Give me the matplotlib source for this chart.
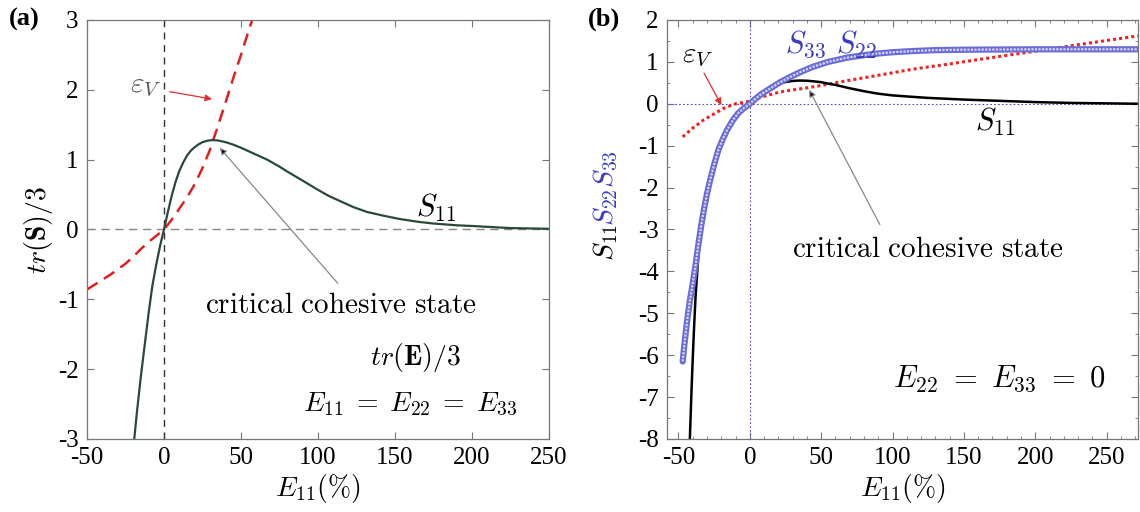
import numpy as np
import matplotlib
matplotlib.use('Agg')
import matplotlib.pyplot as plt
from matplotlib.ticker import MultipleLocator

plt.rcParams['font.family'] = ['Liberation Serif', 'DejaVu Serif']
plt.rcParams['mathtext.fontset'] = 'cm'
plt.rcParams['axes.unicode_minus'] = False

# ---- panel (a): isotropic stretching E11 = E22 = E33 ----
a_s11_e = [-19.3, -17.5, -15, -12.5, -10, -7.5, -5, -2.5, 0, 2.5, 5, 7.5, 10, 12.5, 15,
           17.5, 20, 22.5, 25, 28, 31, 35, 40, 45, 50, 55, 60, 67, 75, 80, 90, 99, 107,
           115, 123, 132, 142, 153, 165, 175, 190, 200, 225, 250]
a_s11_v = [-3.0, -2.6, -2.1, -1.65, -1.2, -0.8, -0.5, -0.23, 0.0, 0.25, 0.48, 0.68, 0.84,
           0.96, 1.06, 1.13, 1.18, 1.22, 1.25, 1.27, 1.28, 1.275, 1.25, 1.215, 1.17, 1.12,
           1.07, 1.0, 0.9, 0.83, 0.7, 0.58, 0.48, 0.4, 0.32, 0.25, 0.2, 0.15, 0.11, 0.085,
           0.06, 0.05, 0.02, 0.01]
a_ev_e = [-50, -45, -40, -35, -30, -25, -20, -15, -10, -5, 0, 5, 10, 15, 20, 25, 30, 35,
          40, 45, 50, 55, 58]
a_ev_v = [-0.86, -0.79, -0.72, -0.65, -0.57, -0.49, -0.39, -0.28, -0.18, -0.09, 0.0, 0.14,
          0.3, 0.46, 0.65, 0.88, 1.15, 1.48, 1.82, 2.17, 2.5, 2.85, 3.05]

# ---- panel (b): uniaxial stretching E22 = E33 = 0 ----
b_s22_e = [-47, -46, -45, -44, -43, -42, -40, -38, -36, -34, -32, -30, -28, -25, -22, -19,
           -16, -12, -8, -4, 0, 4, 8, 14, 21, 30, 37, 44, 55, 68, 80, 90, 100, 115, 130,
           150, 200, 272]
b_s22_v = [-6.15, -5.8, -5.5, -5.2, -4.95, -4.7, -4.3, -3.85, -3.35, -2.9, -2.5, -2.15,
           -1.85, -1.45, -1.1, -0.85, -0.63, -0.4, -0.22, -0.1, 0.0, 0.12, 0.23, 0.36, 0.51,
           0.67, 0.78, 0.88, 1.0, 1.1, 1.16, 1.2, 1.23, 1.26, 1.28, 1.29, 1.3, 1.3]
b_s11_e = [-42, -41, -40, -39, -38, -37, -36, -35, -33, -30, -28, -25, -22, -19, -16, -12,
           -8, -4, 0, 4, 8, 12, 16, 20, 25, 30, 35, 40, 45, 50, 55, 60, 70, 80, 90, 100,
           112, 125, 150, 175, 200, 225, 250, 272]
b_s11_v = [-8.0, -7.0, -6.1, -5.3, -4.6, -4.1, -3.6, -3.2, -2.7, -2.15, -1.85, -1.45, -1.1,
           -0.85, -0.63, -0.4, -0.22, -0.1, 0.0, 0.12, 0.23, 0.33, 0.41, 0.47, 0.52, 0.545,
           0.555, 0.55, 0.535, 0.515, 0.48, 0.45, 0.37, 0.3, 0.24, 0.2, 0.17, 0.14, 0.1,
           0.07, 0.04, 0.02, 0.01, 0.0]
b_ev_e = [-47, -43, -40, -36, -33, -29, -25, -19, -14, -10, -5, 0, 10, 21, 30, 40, 49, 68,
          90, 115, 140, 161, 185, 207, 240, 272]
b_ev_v = [-0.79, -0.67, -0.58, -0.48, -0.4, -0.32, -0.24, -0.12, -0.05, 0.0, 0.03, 0.06,
          0.18, 0.28, 0.33, 0.38, 0.43, 0.55, 0.68, 0.83, 0.95, 1.06, 1.18, 1.29, 1.46, 1.62]

FS = 18
TFS = 21
GRAY = '#777777'
BLUE = '#3b3bc4'

fig = plt.figure(figsize=(11.4, 5.12), dpi=100)
axa = fig.add_axes([0.0763, 0.1426, 0.4053, 0.8184])
axb = fig.add_axes([0.5851, 0.1426, 0.4132, 0.8184])

for ax in (axa, axb):
    for s in ax.spines.values():
        s.set_color(GRAY); s.set_linewidth(0.9)
    ax.tick_params(which='both', direction='in', top=True, right=True,
                   color=GRAY, labelsize=FS, pad=6)
    ax.tick_params(which='major', length=5)
    ax.tick_params(which='minor', length=2.5)

# panel (a)
axa.axvline(0, color='#333333', ls=(0, (5, 4)), lw=1.0)
axa.axhline(0, color='#888888', ls=(0, (6, 4)), lw=1.0)
axa.plot(a_ev_e, a_ev_v, color='#e02020', ls=(0, (5, 3)), lw=1.8)
axa.plot(a_s11_e, a_s11_v, color='#2a4a38', lw=1.6)
axa.set_xlim(-50, 250); axa.set_ylim(-3, 3)
axa.set_xticks(np.arange(-50, 251, 50)); axa.set_yticks(np.arange(-3, 4, 1))
axa.set_xlabel(r'$E_{11}(\%)$', fontsize=20, labelpad=2)
axa.set_ylabel(r'$tr(\mathbf{S})/3$', fontsize=20, labelpad=2)
axa.text(-12, 2.05, r'$\varepsilon_V$', fontsize=TFS, color='#555555', ha='center', va='center')
axa.annotate('', xy=(33, 1.86), xytext=(2, 1.98),
             arrowprops=dict(arrowstyle='-|>', color='#e03030', lw=0.9, mutation_scale=10))
axa.annotate('', xy=(35, 1.2), xytext=(114, -0.8),
             arrowprops=dict(arrowstyle='-|>', ec='#888888', fc='black', lw=0.9,
                             mutation_scale=10))
axa.text(115, -1.1, r'$\mathrm{critical\ cohesive\ state}$', fontsize=TFS, ha='center', va='center')
axa.text(163, -1.84, r'$tr(\mathbf{E})/3$', fontsize=20, ha='center', va='center')
axa.text(160, -2.51, r'$E_{11}\;=\;E_{22}\;=\;E_{33}$', fontsize=20, ha='center', va='center')
axa.text(177, 0.31, r'$S_{11}$', fontsize=22, ha='center', va='center')
fig.text(0.008, 0.962, '(a)', fontsize=19, fontweight='bold', va='center')

# panel (b)
axb.axvline(0, color='#4b4bd0', ls=(0, (1.5, 2)), lw=0.8)
axb.axhline(0, color='#4b4bd0', ls=(0, (1.5, 2)), lw=0.8)
axb.plot(b_ev_e, b_ev_v, color='#ee2222', ls=(0, (1, 1)), lw=2.2)
axb.plot(b_s11_e, b_s11_v, color='black', lw=1.8)
axb.plot(b_s22_e, b_s22_v, color='#6a6ad8', lw=4.5, solid_capstyle='round')
axb.plot(b_s22_e, b_s22_v, color='#d6d6f6', lw=1.6, ls=(0, (1, 0.6)))
axb.set_xlim(-58, 272); axb.set_ylim(-8, 2)
axb.set_xticks(np.arange(-50, 251, 50)); axb.set_yticks(np.arange(-8, 3, 1))
axb.xaxis.set_minor_locator(MultipleLocator(10))
axb.yaxis.set_minor_locator(MultipleLocator(0.5))
axb.set_xlabel(r'$E_{11}(\%)$', fontsize=20, labelpad=2)
axb.text(-0.13, 0.47, r'$S_{11}$', rotation=90, fontsize=20, ha='center', va='center',
         transform=axb.transAxes)
axb.text(-0.13, 0.60, r'$S_{22}S_{33}$', rotation=90, fontsize=20, color=BLUE,
         ha='center', va='center', transform=axb.transAxes)
axb.text(-36.5, 1.15, r'$\varepsilon_V$', fontsize=TFS, ha='center', va='center')
axb.annotate('', xy=(-19, -0.09), xytext=(-33, 0.79),
             arrowprops=dict(arrowstyle='-|>', color='#e03030', lw=0.9, mutation_scale=10))
axb.text(57, 1.43, r'$S_{33}\ S_{22}$', fontsize=22, color=BLUE, ha='center', va='center')
axb.text(172, -0.44, r'$S_{11}$', fontsize=22, ha='center', va='center')
axb.annotate('', xy=(40.7, 0.39), xytext=(92, -2.94),
             arrowprops=dict(arrowstyle='-|>', ec='#888888', fc='black', lw=0.9,
                             mutation_scale=10))
axb.text(125, -3.48, r'$\mathrm{critical\ cohesive\ state}$', fontsize=TFS, ha='center', va='center')
axb.text(175, -6.57, r'$E_{22}\ =\ E_{33}\ =\ 0$', fontsize=22, ha='center', va='center')
fig.text(0.516, 0.962, '(b)', fontsize=19, fontweight='bold', va='center')

fig.savefig('out.png', dpi=100)
